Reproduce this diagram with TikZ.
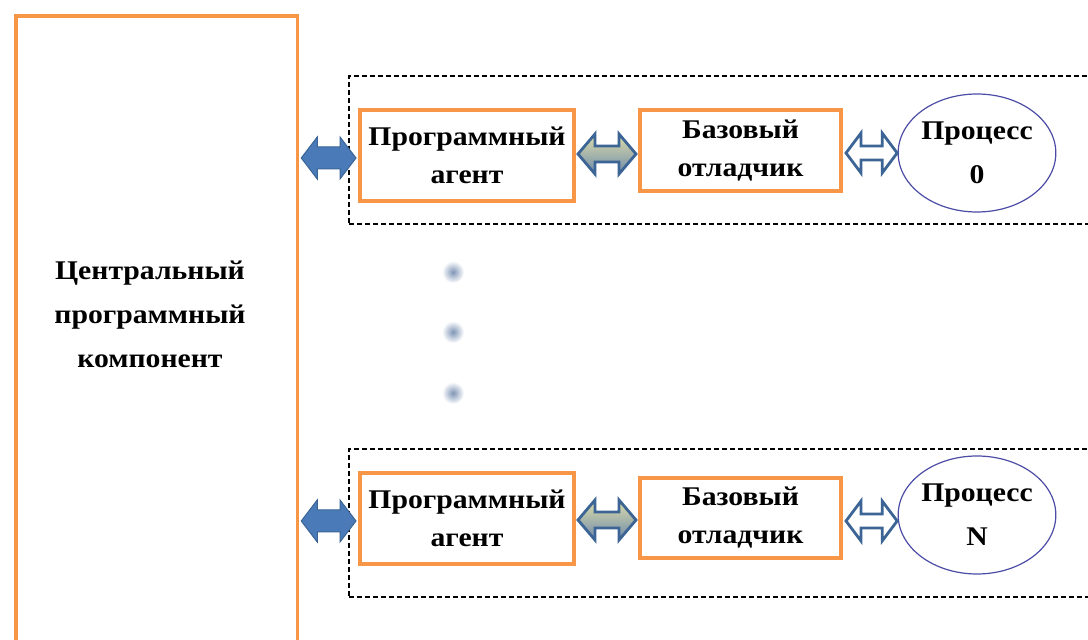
\documentclass[tikz,border=0pt]{standalone}
\usepackage{fontspec}
\setmainfont{Liberation Serif}[FakeStretch=1.1]
\usetikzlibrary{calc,shapes.geometric}
\definecolor{boxorange}{HTML}{F79646}
\definecolor{arrblue}{HTML}{4A7BB8}
\definecolor{arrblueline}{HTML}{3A6596}
\definecolor{arrline}{HTML}{3C6595}
\definecolor{ellline}{HTML}{4C4CA6}
\definecolor{dotblue}{HTML}{7F95B6}
\definecolor{shadetop}{RGB}{222,222,170}
\definecolor{shadebot}{RGB}{110,138,170}
\newcommand\boxfont{\fontsize{27}{38}\selectfont\bfseries}
\newcommand\bigfont{\fontsize{27}{44}\selectfont\bfseries}
\newcommand\dblarr[6]{%
  \path[#1] let \p1=#2, \p2=#3 in
    (\x1,\y2) -- (\x1+#4,\y2+#5) -- (\x1+#4,\y2+#6) -- (\x2-#4,\y2+#6)
    -- (\x2-#4,\y2+#5) -- (\x2,\y2) -- (\x2-#4,\y2-#5) -- (\x2-#4,\y2-#6)
    -- (\x1+#4,\y2-#6) -- (\x1+#4,\y2-#5) -- cycle;}
\tikzset{
  obox/.style={draw=boxorange, line width=3.5pt, fill=white, align=center,
    font=\boxfont, inner sep=0pt, outer sep=0pt},
  grp/.style={draw=black, line width=1.2pt, dash pattern=on 5pt off 3pt,
    inner sep=0pt, outer sep=0pt},
  proc/.style={ellipse, draw=ellline, line width=1.2pt, fill=white,
    align=center, font=\bigfont, inner sep=0pt, outer sep=0pt,
    minimum width=156, minimum height=118},
  arrA/.style={fill=arrblue, draw=arrblueline, line width=1pt, line join=miter},
  arrB/.style={top color=shadetop, bottom color=shadebot, draw=arrline,
    line width=2.8pt, line join=miter},
  arrC/.style={fill=white, draw=arrline, line width=2.8pt, line join=miter},
  dot/.style={inner color=dotblue, outer color=white}
}
\begin{document}
\begin{tikzpicture}[x=1pt,y=1pt]
\useasboundingbox (0,0) rectangle (1088,640);
\fill[white] (0,0) rectangle (1088,640);
\clip (0,0) rectangle (1088,640);

% dashed groups
\node[grp, minimum width=771, minimum height=148] (group1) at (734.5,490) {};
\node[grp, minimum width=771, minimum height=148] (group2) at (734.5,117) {};

% central component
\node[obox, minimum width=281.5, minimum height=654] (central) at (156.5,297) {};
\node[align=center, font=\bigfont] (ctext) at (150,326)
  {Центральный\\программный\\компонент};

% top chain
\node[obox, minimum width=214, minimum height=91] (agent1) at (467,484.5)
  {Программный\\агент};
\node[obox, minimum width=201, minimum height=81] (debug1) at (740.5,489.5)
  {Базовый\\отладчик};
\node[proc] (proc1) at (977,487) {Процесс\\0};

% bottom chain
\node[obox, minimum width=214, minimum height=91] (agent2) at (467,121.5)
  {Программный\\агент};
\node[obox, minimum width=201, minimum height=80] (debug2) at (740.5,122)
  {Базовый\\отладчик};
\node[proc] (proc2) at (977,125) {Процесс\\N};

% connectors
\dblarr{arrA}{($(central.east)+(4,0)$)}{($(agent1.west)+(-4,-2.5)$)}{16pt}{21pt}{11pt}
\dblarr{arrB}{($(agent1.east)+(4,0)$)}{($(debug1.west)+(-4,-3.5)$)}{17pt}{20pt}{8pt}
\dblarr{arrC}{($(debug1.east)+(5,0)$)}{($(proc1.west)+(-1,0)$)}{15pt}{20pt}{7pt}

\dblarr{arrA}{($(central.east)+(4,0)$)}{($(agent2.west)+(-4,-2.5)$)}{16pt}{21pt}{11pt}
\dblarr{arrB}{($(agent2.east)+(4,0)$)}{($(debug2.west)+(-4,-2)$)}{17pt}{20pt}{8pt}
\dblarr{arrC}{($(debug2.east)+(5,0)$)}{($(proc2.west)+(-1,-6)$)}{15pt}{20pt}{7pt}

% ellipsis dots
\shade[dot] (453,368) circle (11);
\shade[dot] (453,308) circle (11);
\shade[dot] (453,247) circle (11);
\end{tikzpicture}
\end{document}
